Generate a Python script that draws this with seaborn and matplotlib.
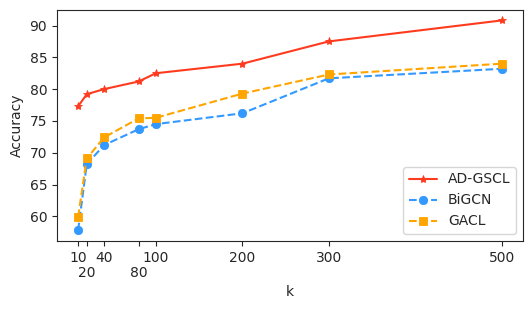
import matplotlib
matplotlib.use("Agg")
import matplotlib.pyplot as plt
import seaborn as sns
import pandas as pd

k = [10, 20, 40, 80, 100, 200, 300, 500]
k_labels = ["10", "20", "40", "80", "100", "200", "300", "500"]
lowered = ["20", "80"]  # labels pushed onto a second row
ad_gscl = [77.3, 79.2, 80.0, 81.2, 82.5, 84.0, 87.5, 90.8]
bigcn = [57.8, 68.2, 71.2, 73.7, 74.5, 76.2, 81.7, 83.2]
gacl = [59.9, 69.1, 72.4, 75.4, 75.5, 79.3, 82.3, 84.0]

sns.set_style("ticks")
plt.rcParams["font.family"] = ["DejaVu Sans"]

series = [
    ("AD-GSCL", ad_gscl, "#ff3b1f", "*", "-"),
    ("BiGCN", bigcn, "#3399ff", "o", "--"),
    ("GACL", gacl, "#ffa500", "s", "--"),
]

fig, ax = plt.subplots(figsize=(5.32, 3.1), dpi=100)
for name, vals, color, marker, ls in series:
    df = pd.DataFrame({"k": k, "acc": vals})
    sns.lineplot(data=df, x="k", y="acc", ax=ax, color=color, marker=marker,
                 linestyle=ls, markersize=6, markeredgecolor=color,
                 markeredgewidth=0.6, label=name)

ax.set_xticks(k)
ax.set_xticklabels(k_labels)
for tick, lab in zip(ax.xaxis.get_major_ticks(), k_labels):
    if lab in lowered:
        tick.set_pad(14.5)
ax.set_xlabel("k")
ax.set_ylabel("Accuracy")
ax.legend(loc="lower right")
fig.subplots_adjust(left=0.107, right=0.983, top=0.968, bottom=0.223)
fig.savefig("out.png", dpi=100)
